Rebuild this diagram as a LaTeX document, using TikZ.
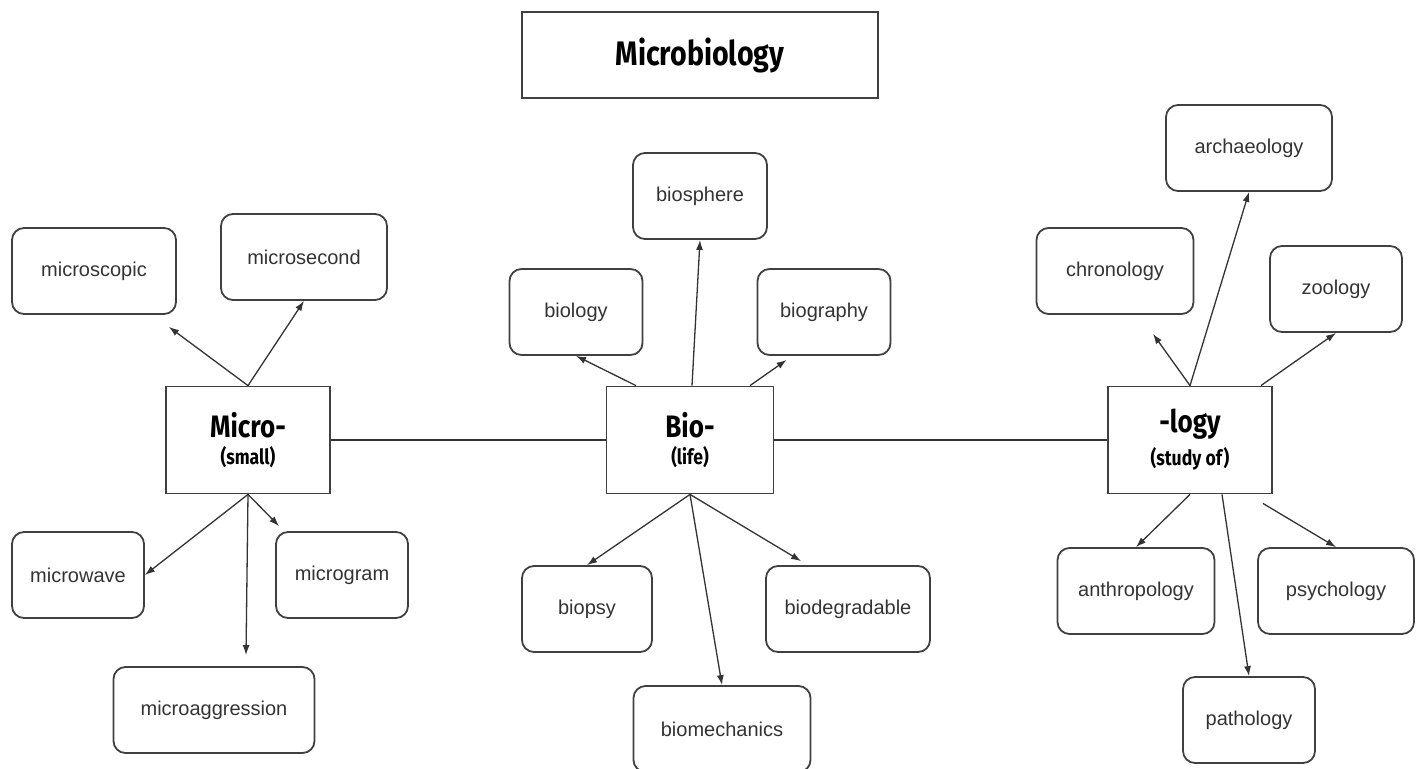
\documentclass[tikz,border=0pt]{standalone}
\usepackage{fontspec}
\usepackage{xcolor}
\usetikzlibrary{arrows.meta, positioning}
\setmainfont{Liberation Sans}
\newfontfamily\headfont[FakeStretch=0.84]{Fira Sans}

\begin{document}
\begin{tikzpicture}[
    x=1pt, y=-1pt,
    word/.style={rectangle, rounded corners=12pt, draw=black!75, line width=1.8pt, minimum height=86pt, align=center, text=black!80, font=\fontsize{20}{22}\selectfont},
    root/.style={rectangle, draw=black!75, line width=1.8pt, minimum width=164pt, minimum height=107pt, align=center, font=\headfont\bfseries},
    arrow/.style={-{Latex[length=10pt, width=7pt]}, line width=1.3pt, draw=black!80},
    link/.style={line width=1.5pt, draw=black!80},
]
\useasboundingbox (0,0) rectangle (1420,768);

% Title
\node[rectangle, draw=black!75, line width=1.8pt, minimum width=356pt, minimum height=86pt, font=\headfont\bfseries\fontsize{34}{36}\selectfont] (title) at (700,55) {Microbiology};

% Word roots
\node[root] (micro) at (248,440) {\fontsize{31}{32}\selectfont Micro-\\[7pt]\fontsize{21}{22}\selectfont (small)};
\node[root, minimum width=167pt] (bio) at (690,440) {\fontsize{31}{32}\selectfont Bio-\\[7pt]\fontsize{21}{22}\selectfont (life)};
\node[root] (logy) at (1190,440) {\fontsize{31}{32}\selectfont -logy\\[7pt]\fontsize{21}{22}\selectfont (study of)};

% Micro- words
\node[word, minimum width=164pt] (scopic) at (94,271) {microscopic};
\node[word, minimum width=166pt] (second) at (304,257) {microsecond};
\node[word, minimum width=132pt] (wave) at (78,575) {microwave};
\node[word, minimum width=132pt] (gram) at (342,575) {microgram};
\node[word, minimum width=201pt] (aggr) at (214,710) {microaggression};

% Bio- words
\node[word, minimum width=134pt] (sphere) at (700,196) {biosphere};
\node[word, minimum width=133pt] (biology) at (576,312) {biology};
\node[word, minimum width=133pt] (graphy) at (824,312) {biography};
\node[word, minimum width=130pt] (psy) at (587,609) {biopsy};
\node[word, minimum width=164pt] (degr) at (848,609) {biodegradable};
\node[word, minimum width=177pt] (mech) at (722,729) {biomechanics};

% -logy words
\node[word, minimum width=166pt] (arch) at (1249,148) {archaeology};
\node[word, minimum width=157pt] (chrono) at (1115,271) {chronology};
\node[word, minimum width=132pt] (zoo) at (1336,289) {zoology};
\node[word, minimum width=157pt] (anthro) at (1136,591) {anthropology};
\node[word, minimum width=156pt] (psych) at (1336,591) {psychology};
\node[word, minimum width=132pt] (patho) at (1249,720) {pathology};

% Links between roots
\draw[link] (micro.east) -- (bio.west);
\draw[link] (bio.east) -- (logy.west);

% Arrows
\draw[arrow] (micro.north) -- ([shift={(-8,12)}]scopic.south east);
\draw[arrow] (micro.north) -- (second.south);
\draw[arrow] (micro.south) -- (wave.east);
\draw[arrow] (micro.south) -- ([shift={(4,-5)}]gram.north west);
\draw[arrow] (micro.south) -- ([shift={(32,-11)}]aggr.north);

\draw[arrow] ([xshift=-54pt]bio.north) -- (biology.south);
\draw[arrow] ([xshift=2pt]bio.north) -- (sphere.south);
\draw[arrow] ([xshift=60pt]bio.north) -- ([shift={(30,4)}]graphy.south west);
\draw[arrow] (bio.south) -- (psy.north);
\draw[arrow] (bio.south) -- (mech.north);
\draw[arrow] (bio.south) -- ([shift={(36,-4)}]degr.north west);

\draw[arrow] (logy.north) -- (arch.south);
\draw[arrow] (logy.north) -- ([shift={(38,19)}]chrono.south);
\draw[arrow] ([xshift=-12pt]logy.north east) -- (zoo.south);
\draw[arrow] (logy.south) -- (anthro.north);
\draw[arrow] ([xshift=32pt]logy.south) -- (patho.north);
\draw[arrow] ([shift={(-10,9)}]logy.south east) -- (psych.north);

\end{tikzpicture}
\end{document}
